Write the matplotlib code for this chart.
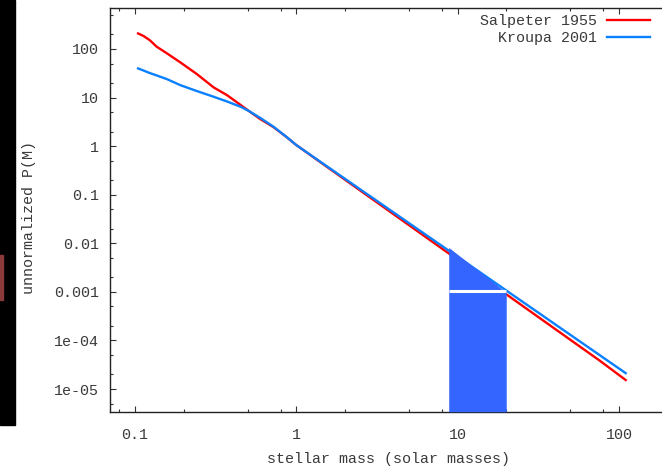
import matplotlib
matplotlib.use("Agg")
import matplotlib.pyplot as plt
from matplotlib.patches import Rectangle
from matplotlib.ticker import LogLocator, NullFormatter, FixedLocator, FixedFormatter

# Stellar mass (solar masses) sample points
mass_low = [0.1045, 0.113, 0.124, 0.136, 0.158, 0.191, 0.242, 0.307, 0.372,
            0.45, 0.506, 0.598, 0.723, 0.875]
mass_high = [1.0, 1.5, 2.2, 3.3, 5.0, 7.5, 11, 16, 24, 35, 52, 75, 110]

salpeter_low = [209, 185, 150, 112, 81, 53, 30.4, 16.2, 11.2, 7.1, 5.33, 3.6, 2.45, 1.51]
salpeter_high = [1.05, 0.403, 0.163, 0.0627, 0.0235, 0.00903, 0.00366, 0.00151,
                 0.00058, 0.000238, 9.36e-5, 3.95e-5, 1.53e-5]

kroupa_low = [39.8, 36.0, 31.8, 28.6, 23.9, 18.0, 13.6, 10.4, 8.3, 6.5, 5.33, 3.8, 2.5, 1.52]
kroupa_high = [1.05, 0.413, 0.171, 0.0674, 0.0259, 0.0102, 0.00423, 0.001785,
               0.000702, 0.000295, 0.0001187, 5.11e-5, 2.12e-5]

# Shaded mass window and its upper edge
window_mass = [8.8, 19.4, 20.0]
window_top = [0.0082, 0.00105, 0.00105]
window_level = 0.00105

x_major = [0.1, 1, 10, 100]
x_major_labels = ["0.1", "1", "10", "100"]
y_major = [1e-5, 1e-4, 1e-3, 1e-2, 0.1, 1, 10, 100]
y_major_labels = ["1e-05", "1e-04", "0.001", "0.01", "0.1", "1", "10", "100"]

W, H = 662, 470
fig = plt.figure(figsize=(W / 100, H / 100), dpi=100)
plt.rcParams["font.family"] = ["Liberation Mono", "DejaVu Sans Mono"]

left, right_px, top_px, bottom_px = 110, 667.6, 8.3, 411.7
ax_w, ax_h = right_px - left, bottom_px - top_px
ax = fig.add_axes([left / W, 1 - bottom_px / H, ax_w / W, ax_h / H])

xlo, xhi = 0.0700, 200
ylo, yhi = 3.41e-6, 688
ax.set_xscale("log")
ax.set_yscale("log")
ax.set_xlim(xlo, xhi)
ax.set_ylim(ylo, yhi)

m_s = mass_low + mass_high
ax.plot(m_s, salpeter_low + salpeter_high, color="#ff0000", lw=1.7, zorder=3,
        label="Salpeter 1955")
ax.plot(m_s, kroupa_low + kroupa_high, color="#0a80ff", lw=1.7, zorder=3,
        label="Kroupa 2001")

ax.fill_between(window_mass, ylo, window_top, color="#3465ff", lw=0, zorder=4)
ax.hlines(window_level, window_mass[0], window_mass[-1], color="white", lw=2.2, zorder=5)

text_col = "#3a3a3a"
fs = 10.8
ax.xaxis.set_major_locator(FixedLocator(x_major))
ax.xaxis.set_major_formatter(FixedFormatter(x_major_labels))
ax.xaxis.set_minor_locator(LogLocator(base=10, subs=(2, 5, 8)))
ax.xaxis.set_minor_formatter(NullFormatter())
ax.yaxis.set_major_locator(FixedLocator(y_major))
ax.yaxis.set_major_formatter(FixedFormatter(y_major_labels))
ax.yaxis.set_minor_locator(LogLocator(base=10, subs=(2, 5)))
ax.yaxis.set_minor_formatter(NullFormatter())

ax.tick_params(which="both", direction="in", top=True, right=True, colors="#333333",
               labelcolor=text_col, labelsize=fs)
ax.tick_params(which="major", length=4.5, width=0.8)
ax.tick_params(which="minor", length=2.5, width=0.8)
ax.tick_params(axis="x", pad=12)
ax.tick_params(axis="y", pad=8)
for s in ax.spines.values():
    s.set_color("#222222")
    s.set_linewidth(1.0)

ax.set_xlabel("stellar mass (solar masses)", fontsize=fs, color=text_col, labelpad=7)
ax.set_ylabel("unnormalized P(M)", fontsize=fs, color=text_col)
ax.yaxis.set_label_coords((36 - left) / ax_w, (bottom_px - 217) / ax_h)

leg = ax.legend(loc="upper right", bbox_to_anchor=(650 / W, 1 - 14 / H),
                bbox_transform=fig.transFigure, frameon=False, markerfirst=False,
                fontsize=fs, handlelength=2.9, handletextpad=0.6, borderpad=0,
                borderaxespad=0, labelspacing=0.2)
for t in leg.get_texts():
    t.set_color(text_col)

# dark strip along the left edge
fig.patches.append(Rectangle((0, 1 - 425 / H), 15 / W, 425 / H, transform=fig.transFigure,
                             color="black", zorder=0))
fig.patches.append(Rectangle((0, 1 - 300 / H), 3 / W, 45 / H, transform=fig.transFigure,
                             color="#8a3a3a", zorder=1))

fig.savefig("out.png", dpi=100)
